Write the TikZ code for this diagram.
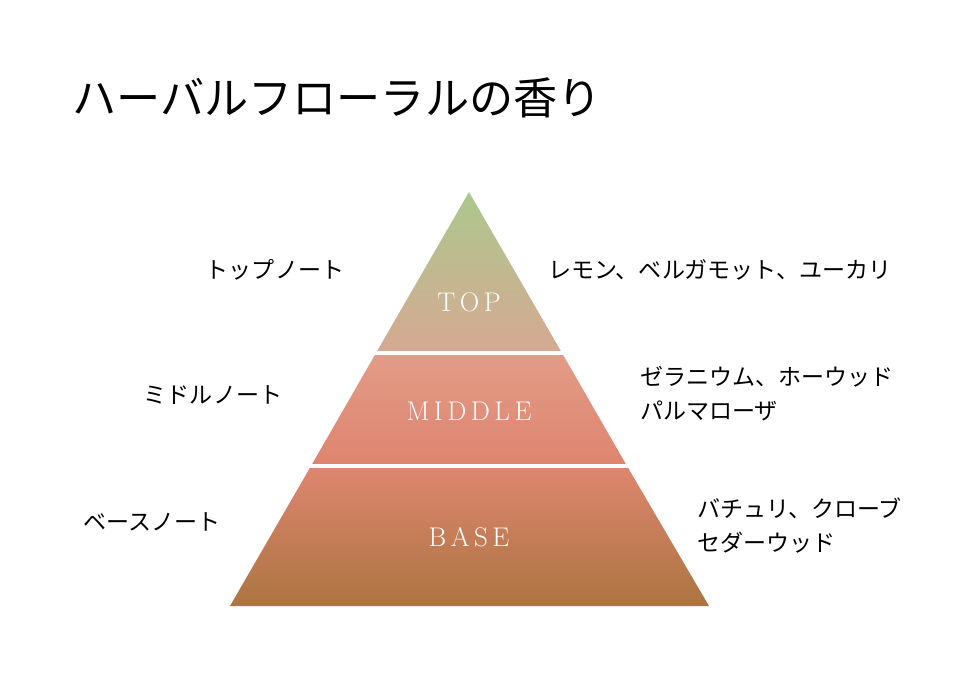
\documentclass[tikz,border=0pt]{standalone}
\usepackage{fontspec}
\newfontfamily\cjk{Noto Sans CJK JP}[Scale=0.96]
\definecolor{topc}{RGB}{172,200,142}
\definecolor{topb}{RGB}{214,168,146}
\definecolor{midt}{RGB}{226,156,136}
\definecolor{midb}{RGB}{222,132,110}
\definecolor{baset}{RGB}{222,134,112}
\definecolor{baseb}{RGB}{172,116,64}
\tikzset{
  note/.style={font=\cjk\fontsize{24}{28}\selectfont, inner sep=0pt},
  band/.style={text=white, font=\fontsize{27}{32}\selectfont, inner sep=0pt},
  sep/.style={white, line width=3.5pt}
}
\begin{document}
\begin{tikzpicture}[x=1pt,y=-1pt]
\useasboundingbox (0,0) rectangle (980,680);

% bands of the pyramid
\shade[top color=topc, bottom color=topb] (469,192) -- (376,353) -- (562,353) -- cycle;
\shade[top color=midt, bottom color=midb] (376,353) -- (311,466) -- (627,466) -- (562,353) -- cycle;
\shade[top color=baset, bottom color=baseb] (311,466) -- (230,606) -- (709,606) -- (627,466) -- cycle;
\draw[sep] (370,353) -- (568,353);
\draw[sep] (305,466) -- (633,466);

\node[band] (top) at (469,302) {T\,O\,P};
\node[band] (middle) at (469,411) {M\,I\,D\,D\,L\,E};
\node[band] (base) at (469,537) {B\,A\,S\,E};

% title
\node[anchor=west, inner sep=0pt, font=\cjk\fontsize{46}{52}\selectfont] (title) at (72,98) {ハーバルフローラルの香り};

% left labels
\node[note] (topl) at (275,270) {トップノート};
\node[note] (midl) at (213,395) {ミドルノート};
\node[note] (basel) at (152,522) {ベースノート};

% right labels
\node[note, anchor=west] (topr) at (548,270) {レモン、ベルガモット、ユーカリ};
\node[note, anchor=west, align=left] (midr) at (640,394) {ゼラニウム、ホーウッド\\[6pt]パルマローザ};
\node[note, anchor=west, align=left] (baser) at (697,525) {バチュリ、クローブ\\[6pt]セダーウッド};
\end{tikzpicture}
\end{document}
